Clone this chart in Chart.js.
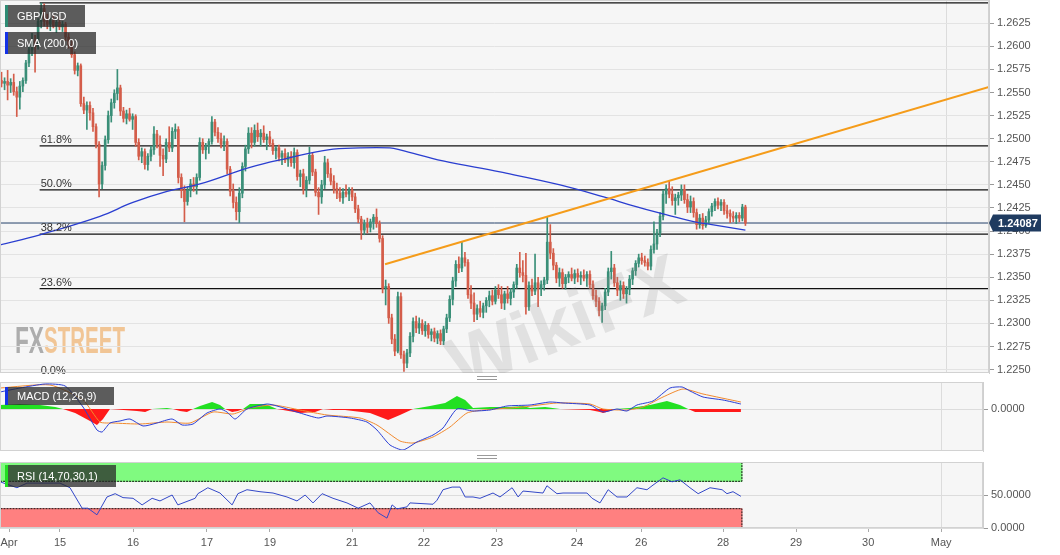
<!DOCTYPE html>
<html>
<head>
<meta charset="utf-8">
<script src="https://cdn.jsdelivr.net/npm/chart.js@4.4.1/dist/chart.umd.min.js"></script>
<style>
body{margin:0;background:#fff;width:1060px;height:555px;overflow:hidden;position:relative;font-family:"Liberation Sans",Arial,sans-serif}
.pane{position:absolute;left:0;width:1060px}
.tag{position:absolute;left:5px;background:rgba(40,40,40,.75);color:#fff;font-size:11px;padding:0 18px 0 9px;border-left:3px solid;white-space:nowrap}
.grip{position:absolute;left:477px;width:20px;height:2px;border-top:1px solid #9a9a9a;border-bottom:1px solid #9a9a9a}
</style>
</head>
<body>
<div class="pane" style="top:0;height:378px"><canvas id="cMain"></canvas></div>
<div class="pane" style="top:382px;height:70px"><canvas id="cMacd"></canvas></div>
<div class="pane" style="top:461px;height:94px"><canvas id="cRsi"></canvas></div>

<div class="tag" style="top:5px;height:22px;line-height:22px;border-color:#2e8b73">GBP/USD</div>
<div class="tag" style="top:32px;height:22px;line-height:22px;border-color:#1432e6">SMA (200,0)</div>
<div class="tag" style="top:387px;height:18px;line-height:18px;border-color:#1432e6">MACD (12,26,9)</div>
<div class="tag" style="top:465px;height:22px;line-height:22px;border-color:#22dd22">RSI (14,70,30,1)</div>
<div class="grip" style="top:376px"></div>
<div class="grip" style="top:455px"></div>

<script>
// hourly GBP/USD candles
var open = [
1.2563,1.2560,1.2562,1.2558,1.2561,1.2551,1.2545,1.2557,1.2563,1.2582,
1.2596,1.2606,1.2600,1.2627,1.2641,1.2627,1.2624,1.2628,1.2622,1.2626,
1.2621,1.2624,1.2610,1.2602,1.2591,1.2574,1.2579,1.2538,1.2531,1.2536,
1.2528,1.2513,1.2494,1.2451,1.2471,1.2499,1.2525,1.2539,1.2549,1.2555,
1.2530,1.2522,1.2527,1.2521,1.2524,1.2496,1.2481,1.2486,1.2472,1.2481,
1.2488,1.2505,1.2494,1.2482,1.2478,1.2496,1.2490,1.2508,1.2510,1.2458,
1.2444,1.2432,1.2444,1.2451,1.2448,1.2458,1.2496,1.2488,1.2492,1.2497,
1.2518,1.2507,1.2500,1.2494,1.2497,1.2467,1.2443,1.2431,1.2421,1.2441,
1.2470,1.2489,1.2506,1.2496,1.2509,1.2502,1.2506,1.2499,1.2502,1.2495,
1.2487,1.2490,1.2480,1.2484,1.2477,1.2481,1.2474,1.2485,1.2459,1.2462,
1.2446,1.2455,1.2482,1.2464,1.2442,1.2437,1.2450,1.2474,1.2462,1.2454,
1.2446,1.2441,1.2436,1.2442,1.2440,1.2444,1.2437,1.2424,1.2413,1.2401,
1.2408,1.2404,1.2410,1.2415,1.2408,1.2392,1.2338,1.2340,1.2306,1.2283,
1.2270,1.2329,1.2266,1.2257,1.2268,1.2286,1.2302,1.2295,1.2300,1.2292,
1.2298,1.2288,1.2291,1.2284,1.2289,1.2281,1.2294,1.2306,1.2326,1.2346,
1.2364,1.2360,1.2371,1.2366,1.2331,1.2322,1.2310,1.2316,1.2312,1.2319,
1.2325,1.2330,1.2324,1.2336,1.2331,1.2322,1.2332,1.2327,1.2334,1.2342,
1.2360,1.2355,1.2352,1.2318,1.2341,1.2335,1.2344,1.2338,1.2342,1.2347,
1.2388,1.2376,1.2363,1.2349,1.2355,1.2343,1.2350,1.2353,1.2349,1.2354,
1.2350,1.2352,1.2349,1.2353,1.2342,1.2330,1.2324,1.2314,1.2319,1.2334,
1.2356,1.2360,1.2344,1.2336,1.2341,1.2332,1.2337,1.2348,1.2357,1.2365,
1.2371,1.2368,1.2366,1.2362,1.2380,1.2386,1.2398,1.2416,1.2440,1.2446,
1.2440,1.2433,1.2436,1.2439,1.2445,1.2434,1.2426,1.2432,1.2420,1.2407,
1.2414,1.2406,1.2412,1.2421,1.2427,1.2432,1.2428,1.2431,1.2422,1.2419,
1.2416,1.2414,1.2417,1.2414,1.2426]
var high = [
1.2572,1.2566,1.2574,1.2565,1.2570,1.2556,1.2562,1.2566,1.2585,1.2600,
1.2614,1.2612,1.2630,1.2647,1.2646,1.2635,1.2631,1.2634,1.2630,1.2632,
1.2627,1.2626,1.2614,1.2606,1.2594,1.2582,1.2581,1.2545,1.2540,1.2540,
1.2533,1.2516,1.2497,1.2475,1.2503,1.2530,1.2543,1.2553,1.2575,1.2558,
1.2534,1.2531,1.2533,1.2527,1.2526,1.2500,1.2490,1.2489,1.2484,1.2492,
1.2513,1.2509,1.2503,1.2489,1.2500,1.2513,1.2512,1.2516,1.2513,1.2462,
1.2449,1.2448,1.2456,1.2458,1.2462,1.2501,1.2500,1.2495,1.2500,1.2524,
1.2521,1.2512,1.2506,1.2503,1.2500,1.2470,1.2451,1.2437,1.2447,1.2474,
1.2493,1.2512,1.2512,1.2515,1.2517,1.2510,1.2514,1.2505,1.2508,1.2499,
1.2492,1.2493,1.2487,1.2489,1.2485,1.2486,1.2490,1.2488,1.2466,1.2467,
1.2459,1.2491,1.2485,1.2467,1.2447,1.2455,1.2481,1.2478,1.2468,1.2460,
1.2452,1.2447,1.2446,1.2450,1.2447,1.2447,1.2441,1.2428,1.2416,1.2412,
1.2414,1.2413,1.2418,1.2424,1.2411,1.2395,1.2347,1.2343,1.2310,1.2288,
1.2334,1.2333,1.2270,1.2272,1.2290,1.2306,1.2308,1.2306,1.2304,1.2302,
1.2300,1.2294,1.2295,1.2292,1.2293,1.2297,1.2310,1.2330,1.2350,1.2368,
1.2372,1.2388,1.2377,1.2369,1.2341,1.2333,1.2320,1.2324,1.2322,1.2328,
1.2335,1.2336,1.2340,1.2342,1.2340,1.2335,1.2340,1.2338,1.2345,1.2364,
1.2377,1.2368,1.2376,1.2345,1.2348,1.2375,1.2350,1.2346,1.2350,1.2416,
1.2407,1.2381,1.2366,1.2360,1.2359,1.2353,1.2356,1.2360,1.2358,1.2359,
1.2356,1.2358,1.2356,1.2357,1.2346,1.2336,1.2328,1.2322,1.2338,1.2360,
1.2378,1.2364,1.2350,1.2346,1.2345,1.2340,1.2352,1.2360,1.2368,1.2375,
1.2376,1.2373,1.2370,1.2384,1.2410,1.2402,1.2420,1.2444,1.2450,1.2454,
1.2448,1.2440,1.2442,1.2450,1.2450,1.2440,1.2438,1.2436,1.2424,1.2418,
1.2419,1.2416,1.2424,1.2430,1.2435,1.2436,1.2434,1.2434,1.2428,1.2423,
1.2421,1.2420,1.2420,1.2429,1.2428]
var low = [
1.2556,1.2553,1.2542,1.2550,1.2547,1.2524,1.2532,1.2551,1.2560,1.2578,
1.2590,1.2572,1.2597,1.2620,1.2622,1.2619,1.2617,1.2620,1.2615,1.2618,
1.2616,1.2606,1.2598,1.2588,1.2570,1.2568,1.2535,1.2527,1.2510,1.2520,
1.2508,1.2490,1.2437,1.2446,1.2466,1.2495,1.2518,1.2533,1.2542,1.2525,
1.2518,1.2516,1.2519,1.2510,1.2492,1.2477,1.2474,1.2467,1.2466,1.2476,
1.2483,1.2490,1.2470,1.2460,1.2474,1.2486,1.2486,1.2500,1.2452,1.2436,
1.2410,1.2428,1.2437,1.2443,1.2440,1.2455,1.2484,1.2478,1.2484,1.2494,
1.2503,1.2496,1.2490,1.2487,1.2462,1.2438,1.2425,1.2412,1.2409,1.2436,
1.2465,1.2484,1.2490,1.2492,1.2497,1.2492,1.2496,1.2488,1.2492,1.2483,
1.2478,1.2476,1.2472,1.2474,1.2470,1.2470,1.2468,1.2455,1.2448,1.2440,
1.2437,1.2451,1.2460,1.2438,1.2418,1.2430,1.2446,1.2458,1.2450,1.2441,
1.2435,1.2432,1.2430,1.2437,1.2433,1.2433,1.2420,1.2409,1.2391,1.2396,
1.2398,1.2399,1.2402,1.2404,1.2388,1.2333,1.2320,1.2300,1.2278,1.2265,
1.2268,1.2262,1.2248,1.2252,1.2264,1.2280,1.2290,1.2289,1.2288,1.2286,
1.2284,1.2281,1.2280,1.2278,1.2277,1.2277,1.2290,1.2302,1.2320,1.2340,
1.2355,1.2356,1.2362,1.2327,1.2316,1.2302,1.2304,1.2307,1.2306,1.2312,
1.2318,1.2320,1.2321,1.2327,1.2316,1.2315,1.2322,1.2320,1.2328,1.2338,
1.2350,1.2345,1.2310,1.2314,1.2330,1.2331,1.2318,1.2330,1.2336,1.2343,
1.2370,1.2358,1.2344,1.2340,1.2338,1.2337,1.2344,1.2346,1.2343,1.2345,
1.2342,1.2346,1.2340,1.2338,1.2326,1.2318,1.2308,1.2301,1.2315,1.2330,
1.2348,1.2340,1.2330,1.2325,1.2327,1.2322,1.2331,1.2342,1.2352,1.2361,
1.2364,1.2362,1.2358,1.2358,1.2376,1.2380,1.2394,1.2412,1.2430,1.2436,
1.2428,1.2418,1.2428,1.2433,1.2430,1.2420,1.2420,1.2415,1.2402,1.2403,
1.2402,1.2404,1.2408,1.2416,1.2422,1.2424,1.2422,1.2418,1.2414,1.2409,
1.2410,1.2408,1.2410,1.2411,1.2406]
var close = [
1.2560,1.2562,1.2558,1.2561,1.2551,1.2545,1.2557,1.2563,1.2582,1.2596,
1.2606,1.2600,1.2627,1.2641,1.2627,1.2624,1.2628,1.2622,1.2626,1.2621,
1.2624,1.2610,1.2602,1.2591,1.2574,1.2579,1.2538,1.2531,1.2536,1.2528,
1.2513,1.2494,1.2451,1.2471,1.2499,1.2525,1.2539,1.2549,1.2555,1.2530,
1.2522,1.2527,1.2521,1.2524,1.2496,1.2481,1.2486,1.2472,1.2481,1.2488,
1.2505,1.2494,1.2482,1.2478,1.2496,1.2490,1.2508,1.2510,1.2458,1.2444,
1.2432,1.2444,1.2451,1.2448,1.2458,1.2496,1.2488,1.2492,1.2497,1.2518,
1.2507,1.2500,1.2494,1.2497,1.2467,1.2443,1.2431,1.2421,1.2441,1.2470,
1.2489,1.2506,1.2496,1.2509,1.2502,1.2506,1.2499,1.2502,1.2495,1.2487,
1.2490,1.2480,1.2484,1.2477,1.2481,1.2474,1.2485,1.2459,1.2462,1.2446,
1.2455,1.2482,1.2464,1.2442,1.2437,1.2450,1.2474,1.2462,1.2454,1.2446,
1.2441,1.2436,1.2442,1.2440,1.2444,1.2437,1.2424,1.2413,1.2401,1.2408,
1.2404,1.2410,1.2415,1.2408,1.2392,1.2338,1.2340,1.2306,1.2283,1.2270,
1.2329,1.2266,1.2257,1.2268,1.2286,1.2302,1.2295,1.2300,1.2292,1.2298,
1.2288,1.2291,1.2284,1.2289,1.2281,1.2294,1.2306,1.2326,1.2346,1.2364,
1.2360,1.2371,1.2366,1.2331,1.2322,1.2310,1.2316,1.2312,1.2319,1.2325,
1.2330,1.2324,1.2336,1.2331,1.2322,1.2332,1.2327,1.2334,1.2342,1.2360,
1.2355,1.2352,1.2318,1.2341,1.2335,1.2344,1.2338,1.2342,1.2347,1.2388,
1.2376,1.2363,1.2349,1.2355,1.2343,1.2350,1.2353,1.2349,1.2354,1.2350,
1.2352,1.2349,1.2353,1.2342,1.2330,1.2324,1.2314,1.2319,1.2334,1.2356,
1.2360,1.2344,1.2336,1.2341,1.2332,1.2337,1.2348,1.2357,1.2365,1.2371,
1.2368,1.2366,1.2362,1.2380,1.2386,1.2398,1.2416,1.2440,1.2446,1.2440,
1.2433,1.2436,1.2439,1.2445,1.2434,1.2426,1.2432,1.2420,1.2407,1.2414,
1.2406,1.2412,1.2421,1.2427,1.2432,1.2428,1.2431,1.2422,1.2419,1.2416,
1.2414,1.2417,1.2414,1.2426,1.24087]

// SMA 200 (x in hours from left edge)
var smaX = [0,13.1,32.8,43.6,54.8,65.6,82.0,94.5,107.6,118.1,127.9,131.2,145.3,164.0,183.7,200.1,206.0,218.1,227.9,233.5,244.5]
var smaY = [1.2385,1.2396,1.2416,1.2431,1.2443,1.2451,1.2469,1.2479,1.2488,1.2490,1.2490,1.2488,1.2476,1.2464,1.2450,1.2435,1.2429,1.2418,1.2410,1.2407,1.2401]

// trend line
var trendX = [126.3, 324.4]
var trendY = [1.2364, 1.2556]

// fibonacci retracement
var fibStartX = 13
var fibHigh = 1.2647
var fibLow = 1.2242
var fibRatios = [0, 0.236, 0.382, 0.5, 0.618, 1]
var fibLabels = ['0.0%','23.6%','38.2%','50.0%','61.8%','100.0%']

// MACD (12,26,9)
var macdX = [0,6.6,14.9,21.5,27.4,32.0,33.7,36.3,39.6,42.9,47.2,51.8,56.8,60.1,63.7,68.3,72.6,74.9,77.6,81.5,88.1,91.4,99.0,105.0,107.9,115.5,121.1,124.4,128.7,133.0,137.6,142.9,146.2,150.8,156.1,161.7,167.3,174.9,181.5,185.8,194.7,199.0,203.6,206.9,210.2,215.5,221.1,225.1,227.7,232.0,238.6,244.5]
var macdY = [0.0017,0.0021,0.0025,0.0023,0.0002,-0.0021,-0.0023,-0.0014,-0.0012,-0.0010,-0.0017,-0.0014,-0.0010,-0.0016,-0.0015,-0.0004,0.0000,-0.0003,-0.0010,0.0000,0.0005,0.0003,-0.0004,-0.0009,-0.0007,-0.0009,-0.0013,-0.0021,-0.0036,-0.0041,-0.0033,-0.0026,-0.0019,0.0000,-0.0002,-0.0001,0.0003,0.0004,0.0007,0.0006,0.0004,-0.0003,0.0000,-0.0002,0.0004,0.0008,0.0021,0.0022,0.0018,0.0012,0.0009,0.0005]
var sigX = [0,16.5,27.4,33.0,37.3,46.2,55.1,62.7,70.3,76.9,82.5,90.1,99.0,107.9,118.8,124.4,132.0,136.3,142.9,148.5,154.1,159.4,172.6,183.8,194.7,199.0,206.9,212.2,218.8,225.4,232.0,244.5]
var sigY = [0.0021,0.0024,0.0009,-0.0013,-0.0014,-0.0015,-0.0013,-0.0014,-0.0003,-0.0005,0.0001,0.0004,-0.0001,-0.0006,-0.0009,-0.0016,-0.0032,-0.0034,-0.0028,-0.0018,-0.0004,-0.0001,0.0002,0.0006,0.0005,0.0000,-0.0001,0.0002,0.0012,0.0020,0.0015,0.0007]
var histX = [0,6.6,13.2,18.2,20.8,24.8,29.7,32.0,34.0,36.3,45.2,47.9,50.2,55.1,57.1,59.4,61.7,63.7,66.0,70.0,72.6,74.3,76.6,78.5,80.2,82.5,87.5,91.4,93.4,99.0,104.0,106.6,109.9,113.9,116.5,122.1,128.1,132.0,136.3,141.9,146.9,150.8,153.5,156.1,161.7,168.3,172.6,174.9,179.9,184.8,194.7,198.0,199.0,201.3,203.0,207.9,214.5,220.1,224.4,227.1,229.4,234.3,244.5]
var histY = [0.0004,0.0005,0.0004,0.0002,0,-0.0004,-0.0012,-0.0016,-0.0010,0,-0.0002,-0.0003,0,0.0001,0,-0.0002,-0.0003,0,0.0003,0.0007,0.0004,0,-0.0003,-0.0002,0,0.0005,0.0005,0,-0.0001,-0.0004,-0.0003,0,-0.0001,-0.0001,-0.0002,-0.0004,-0.0011,-0.0006,0,0.0003,0.0006,0.0013,0.0009,0.0001,0.0002,0.0002,0.0003,0.0001,0.0002,0,-0.0001,-0.0003,-0.0004,-0.0002,0,0.0001,0.0004,0.0008,0.0004,0,-0.0003,-0.0003,-0.0003]

// RSI (14,70,30)
var rsiX = [0,5.6,8.9,19.8,23.1,27.1,29.0,32.0,35.3,38.0,40.6,43.9,46.9,50.2,52.8,56.8,58.7,64.4,65.3,68.6,72.6,76.6,78.5,81.5,85.8,90.1,94.7,98.0,100.7,103.3,106.3,109.9,114.5,118.2,122.1,124.8,127.7,129.4,131.0,134.3,135.3,142.9,144.2,146.2,149.2,151.8,153.5,156.1,158.4,162.7,165.0,169.0,171.0,172.6,174.9,179.2,180.5,183.8,185.8,193.7,195.4,198.0,200.7,203.6,206.9,210.2,213.5,215.5,218.8,221.8,224.4,227.7,230.4,234.3,238.3,239.9,241.9,244.5]
var rsiY = [70,61,68,68,61,30,30,20,47,52,46,45,35,45,41,50,35,45,52,61,53,35,52,58,55,53,47,41,50,38,52,45,38,30,38,23,15,35,29,32,38,36,42,58,62,62,47,47,45,53,47,61,47,56,55,53,64,52,53,53,45,38,58,47,47,61,58,65,76,70,73,61,52,61,58,52,55,48]
var rsiUpper = 70
var rsiLower = 30

// axes
var priceTicks = [1.2250,1.2275,1.2300,1.2325,1.2350,1.2375,1.2400,1.2425,1.2450,1.2475,1.2500,1.2525,1.2550,1.2575,1.2600,1.2625]
var dayPos = [3.0,19.8,43.9,68.3,89.1,116.2,139.9,164.0,190.4,211.6,238.6,262.7,286.5,310.6]
var dayLabels = ['Apr','15','16','17','19','21','22','23','24','26','28','29','30','May']
var XMAX = 324.4

Chart.defaults.font.family = '"Liberation Sans", Arial, sans-serif'
Chart.defaults.font.size = 11
Chart.defaults.color = '#555'
Chart.defaults.animation = false
Chart.defaults.events = []
Chart.defaults.plugins.legend.display = false
Chart.defaults.plugins.tooltip.enabled = false

var UP = '#3a8f78', DOWN = '#d45d4a'
var lastPrice = close[close.length - 1]
var pts = function(xs, ys){ return xs.map(function(x, i){ return {x: x, y: ys[i]} }) }
var candleCol = close.map(function(c, i){ return c >= open[i] ? UP : DOWN })

function xAxis(showLabels){
    return {
        type: 'linear', min: 0, max: XMAX, offset: false,
        afterBuildTicks: function(s){ s.ticks = dayPos.map(function(v){ return {value: v} }) },
        afterFit: function(s){ s.height = showLabels ? 27 : 0; s.paddingLeft = 0; s.paddingRight = 0 },
        grid: {
            offset: false, drawTicks: showLabels, tickLength: 4, tickColor: '#aaa',
            color: function(c){ return c.tick && c.tick.value === dayPos[dayPos.length - 1] ? '#dcdcdc' : 'rgba(0,0,0,0)' }
        },
        border: {display: false},
        ticks: {
            display: showLabels, autoSkip: false, maxRotation: 0, padding: 4, color: '#555',
            callback: function(v, i){ return dayLabels[i] }
        }
    }
}

function yAxis(width, min, max, ticks, fmt, gridCol){
    return {
        position: 'right', min: min, max: max,
        afterBuildTicks: function(s){ s.ticks = ticks.map(function(v){ return {value: v} }) },
        afterFit: function(s){ s.width = width; s.paddingTop = 0; s.paddingBottom = 0 },
        grid: {color: gridCol, tickLength: 5, tickColor: '#999'},
        border: {display: true, color: '#cfcfcf'},
        ticks: {padding: 3, color: '#555', callback: fmt}
    }
}

function fillBg(chart){
    var a = chart.chartArea, ctx = chart.ctx
    ctx.save()
    ctx.fillStyle = '#f6f6f6'
    ctx.fillRect(a.left, a.top, a.right - a.left, a.bottom - a.top)
    ctx.restore()
}
function strokeBox(chart){
    var a = chart.chartArea, ctx = chart.ctx
    ctx.save()
    ctx.strokeStyle = '#d2d2d2'
    ctx.lineWidth = 1
    ctx.strokeRect(a.left + 0.5, a.top + 0.5, a.right - a.left - 1, a.bottom - a.top - 1)
    ctx.restore()
}

//Main price chart
var fibDatasets = fibRatios.map(function(r){
    var lvl = fibLow + (fibHigh - fibLow) * r
    return {type: 'line', data: [{x: fibStartX, y: lvl}, {x: XMAX, y: lvl}], borderColor: '#111', borderWidth: 1.2, pointRadius: 0}
})

var mainDeco = {
    id: 'mainDeco',
    beforeDraw: function(chart){
        fillBg(chart)
        var ctx = chart.ctx
        ctx.save()
        ctx.font = 'bold 36px "Liberation Sans Narrow", "Liberation Sans", sans-serif'
        ctx.textBaseline = 'alphabetic'
        ctx.fillStyle = 'rgba(125,125,125,0.6)'
        ctx.fillText('FX', 15, 353, 29)
        ctx.fillStyle = 'rgba(238,165,85,0.6)'
        ctx.fillText('STREET', 44, 353, 81)
        ctx.restore()
    },
    afterDatasetsDraw: function(chart){
        var ctx = chart.ctx, xs = chart.scales.x, ys = chart.scales.y
        ctx.save()
        ctx.fillStyle = '#333'
        ctx.font = '11px "Liberation Sans", Arial, sans-serif'
        ctx.textBaseline = 'alphabetic'
        fibRatios.forEach(function(r, i){
            var lvl = fibLow + (fibHigh - fibLow) * r
            ctx.fillText(fibLabels[i], xs.getPixelForValue(fibStartX) + 1, ys.getPixelForValue(lvl) - 3)
        })
        ctx.restore()
    },
    afterDraw: function(chart){
        var ctx = chart.ctx, a = chart.chartArea, ys = chart.scales.y
        strokeBox(chart)
        ctx.save()
        ctx.beginPath()
        ctx.rect(a.left, a.top, a.right - a.left, a.bottom - a.top)
        ctx.clip()
        ctx.translate(565, 322)
        ctx.rotate(-0.38)
        ctx.font = 'bold 74px "Liberation Sans", Arial, sans-serif'
        ctx.textAlign = 'center'
        ctx.fillStyle = 'rgba(140,140,140,0.19)'
        ctx.fillText('WikiFX', 0, 25)
        ctx.restore()
        // last price tag
        var y = ys.getPixelForValue(lastPrice)
        ctx.save()
        ctx.fillStyle = '#1f3b60'
        ctx.beginPath()
        ctx.moveTo(a.right, y)
        ctx.lineTo(a.right + 4, y - 8.5)
        ctx.lineTo(a.right + 52, y - 8.5)
        ctx.lineTo(a.right + 52, y + 8.5)
        ctx.lineTo(a.right + 4, y + 8.5)
        ctx.closePath()
        ctx.fill()
        ctx.fillStyle = '#fff'
        ctx.font = 'bold 11px "Liberation Sans", Arial, sans-serif'
        ctx.textBaseline = 'middle'
        ctx.fillText(lastPrice.toFixed(5), a.right + 9, y + 0.5)
        ctx.restore()
    }
}

new Chart(document.getElementById('cMain'), {
    type: 'line',
    data: {
        datasets: [
            {type: 'line', data: pts(trendX, trendY), borderColor: '#f59c1a', borderWidth: 2, pointRadius: 0},
            {type: 'line', data: pts(smaX, smaY), borderColor: '#2a3ed0', borderWidth: 1.3, pointRadius: 0, tension: 0.4},
            {
                type: 'bar', grouped: false, barThickness: 2, minBarLength: 1, borderWidth: 0,
                data: close.map(function(c, i){ return {x: i + 0.5, y: [open[i], c]} }),
                backgroundColor: candleCol
            },
            {
                type: 'bar', grouped: false, barThickness: 1, borderWidth: 0,
                data: close.map(function(c, i){ return {x: i + 0.5, y: [low[i], high[i]]} }),
                backgroundColor: candleCol
            }
        ].concat(fibDatasets).concat([
            {type: 'line', data: [{x: 0, y: lastPrice}, {x: XMAX, y: lastPrice}], borderColor: '#24406a', borderWidth: 1, pointRadius: 0}
        ])
    },
    options: {
        responsive: true,
        maintainAspectRatio: false,
        layout: {padding: {top: 0, left: 0, right: 0, bottom: 5}},
        scales: {
            x: xAxis(false),
            y: yAxis(71, 1.22463, 1.26502, priceTicks, function(v){ return v.toFixed(4) }, '#e3e3e3')
        }
    },
    plugins: [mainDeco]
})

//MACD
new Chart(document.getElementById('cMacd'), {
    type: 'line',
    data: {
        datasets: [
            {data: pts(macdX, macdY), borderColor: '#2b3fd6', borderWidth: 1, pointRadius: 0, tension: 0.2},
            {data: pts(sigX, sigY), borderColor: '#f28a2e', borderWidth: 1, pointRadius: 0, tension: 0.2},
            {data: pts(histX, histY), borderWidth: 0, pointRadius: 0, fill: {target: 'origin', above: '#22e022', below: '#ff1a1a'}}
        ]
    },
    options: {
        responsive: true,
        maintainAspectRatio: false,
        layout: {padding: {top: 0, left: 0, right: 0, bottom: 1}},
        scales: {
            x: xAxis(false),
            y: yAxis(77, -0.0042, 0.0027, [0], function(v){ return v.toFixed(4) }, '#dcdcdc')
        }
    },
    plugins: [{id: 'macdDeco', beforeDraw: fillBg, afterDraw: strokeBox}]
})

//RSI
var rsiDeco = {
    id: 'rsiDeco',
    beforeDraw: fillBg,
    beforeDatasetsDraw: function(chart){
        var ctx = chart.ctx, xs = chart.scales.x, ys = chart.scales.y
        var x0 = xs.getPixelForValue(0), x1 = xs.getPixelForValue(close.length)
        var bands = [[rsiUpper, 100, 'rgb(128,250,128)'], [0, rsiLower, 'rgb(255,128,128)']]
        ctx.save()
        bands.forEach(function(b){
            var yTop = ys.getPixelForValue(b[1]), yBot = ys.getPixelForValue(b[0])
            ctx.fillStyle = b[2]
            ctx.fillRect(x0, yTop, x1 - x0, yBot - yTop)
            ctx.strokeStyle = '#111'
            ctx.lineWidth = 1
            ctx.setLineDash([2, 1])
            ctx.strokeRect(x0 + 0.5, yTop + 0.5, x1 - x0 - 1, yBot - yTop - 1)
        })
        ctx.restore()
    },
    afterDraw: strokeBox
}

new Chart(document.getElementById('cRsi'), {
    type: 'line',
    data: {
        datasets: [
            {data: pts(rsiX, rsiY), borderColor: '#3348c8', borderWidth: 1, pointRadius: 0}
        ]
    },
    options: {
        responsive: true,
        maintainAspectRatio: false,
        layout: {padding: {top: 1, left: 0, right: 0, bottom: 0}},
        scales: {
            x: xAxis(true),
            y: yAxis(77, 0, 100, [0, 50], function(v){ return v.toFixed(4) }, '#dcdcdc')
        }
    },
    plugins: [rsiDeco]
})
</script>
</body>
</html>
